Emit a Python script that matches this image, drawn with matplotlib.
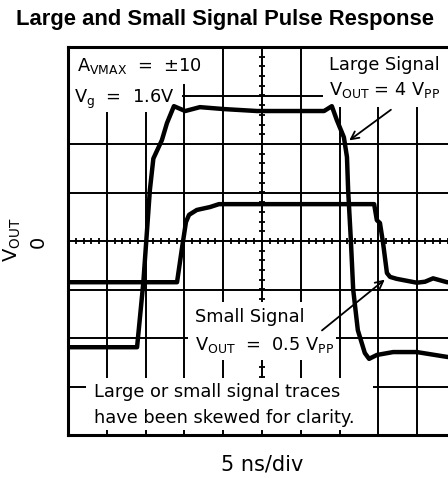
import numpy as np
import matplotlib.pyplot as plt
from matplotlib.patches import Rectangle

# traces, in scope divisions (x: 0..10, y: -4..4)
large_x = [0, 1.78, 1.94, 2.11, 2.20, 2.42, 2.55, 2.73, 3.02, 3.40, 4.02, 4.87,
           6.60, 6.80, 6.93, 7.11, 7.19, 7.22, 7.29, 7.35, 7.47, 7.65, 7.76,
           7.96, 8.38, 8.99, 9.77, 10]
large_y = [-2.19, -2.19, -0.87, 1.05, 1.70, 2.08, 2.43, 2.78, 2.68, 2.76, 2.72, 2.68,
           2.68, 2.78, 2.49, 2.14, 1.73, 1.05, 0.02, -1.00, -1.84, -2.31, -2.43,
           -2.35, -2.29, -2.29, -2.39, -2.40]

small_x = [0, 2.81, 2.93, 3.04, 3.12, 3.32, 3.66, 3.89, 4.50, 7.89, 7.96, 8.04,
           8.12, 8.22, 8.30, 8.47, 8.99, 9.20, 9.41, 9.77, 10]
small_y = [-0.85, -0.85, -0.19, 0.39, 0.54, 0.64, 0.70, 0.76, 0.76, 0.76, 0.43, 0.37,
           -0.04, -0.66, -0.74, -0.78, -0.86, -0.84, -0.77, -0.85, -0.85]

large_tip = (7.19, 2.04)
large_tail = (8.38, 2.74)
small_tip = (8.22, -0.76)
small_tail = (6.49, -1.88)

fig = plt.figure(figsize=(4.48, 4.78), dpi=100)
ax = fig.add_axes([68 / 448, 43 / 478, 388 / 448, 388 / 478])
ax.set_xlim(0, 10)
ax.set_ylim(-4, 4)
ax.set_xticks([])
ax.set_yticks([])
for s in ax.spines.values():
    s.set_linewidth(2.2)
    s.set_zorder(10)

# graticule
ax.vlines(np.arange(1, 10), -4, 4, color='black', lw=1.4, zorder=1)
ax.hlines(np.arange(-3, 4), 0, 10, color='black', lw=1.4, zorder=1)
minor = np.arange(0, 10.01, 0.2)
ax.vlines(minor, -0.07, 0.07, color='black', lw=1.3, zorder=1)
minor_y = np.arange(-4, 4.01, 0.2)
ax.hlines(minor_y, 4.91, 5.09, color='black', lw=1.3, zorder=1)

# white areas behind the notes
masks = [(0.05, 3.24, 3.7, 0.76), (0.05, 2.66, 2.9, 0.58),
         (6.57, 2.76, 3.5, 1.20), (3.10, -2.45, 3.8, 1.20),
         (0.46, -3.9, 7.4, 1.08)]
for (x0, y0, w, h) in masks:
    ax.add_patch(Rectangle((x0, y0), w, h, facecolor='white', edgecolor='none', zorder=2))

ax.plot(large_x, large_y, color='black', lw=3.2, zorder=4, solid_joinstyle='round')
ax.plot(small_x, small_y, color='black', lw=3.2, zorder=4, solid_joinstyle='round')

kw = dict(fontsize=12.8, family='DejaVu Sans', zorder=3, va='baseline')
ax.text(0.23, 3.5, r'A$_{\mathrm{VMAX}}$  =  ±10', **kw)
ax.text(0.15, 2.85, r'V$_{\mathrm{g}}$  =  1.6V', **kw)
ax.text(6.73, 3.53, 'Large Signal', **kw)
ax.text(6.73, 3.01, r'V$_{\mathrm{OUT}}$ = 4 V$_{\mathrm{PP}}$', **kw)
ax.text(3.27, -1.67, 'Small Signal', **kw)
ax.text(3.27, -2.25, r'V$_{\mathrm{OUT}}$  =  0.5 V$_{\mathrm{PP}}$', **kw)
ax.text(0.67, -3.22, 'Large or small signal traces', **kw)
ax.text(0.67, -3.75, 'have been skewed for clarity.', **kw)

arrow = dict(arrowstyle='->', color='black', lw=1.3, mutation_scale=14)
ax.annotate('', xy=large_tip, xytext=large_tail, arrowprops=arrow, zorder=5)
ax.annotate('', xy=small_tip, xytext=small_tail, arrowprops=arrow, zorder=5)

fig.text(225 / 448, 1 - 20 / 478, 'Large and Small Signal Pulse Response',
         ha='center', va='center', fontsize=15.8, fontweight='bold', family='Liberation Sans')
fig.text(262 / 448, 1 - 465 / 478, '5 ns/div', ha='center', va='center', fontsize=15)
fig.text(12 / 448, 1 - 240 / 478, r'V$_{\mathrm{OUT}}$', ha='center', va='center',
         rotation=90, fontsize=14)
fig.text(38 / 448, 1 - 242 / 478, '0', ha='center', va='center', rotation=90, fontsize=14)

fig.savefig('out.png', dpi=100)
